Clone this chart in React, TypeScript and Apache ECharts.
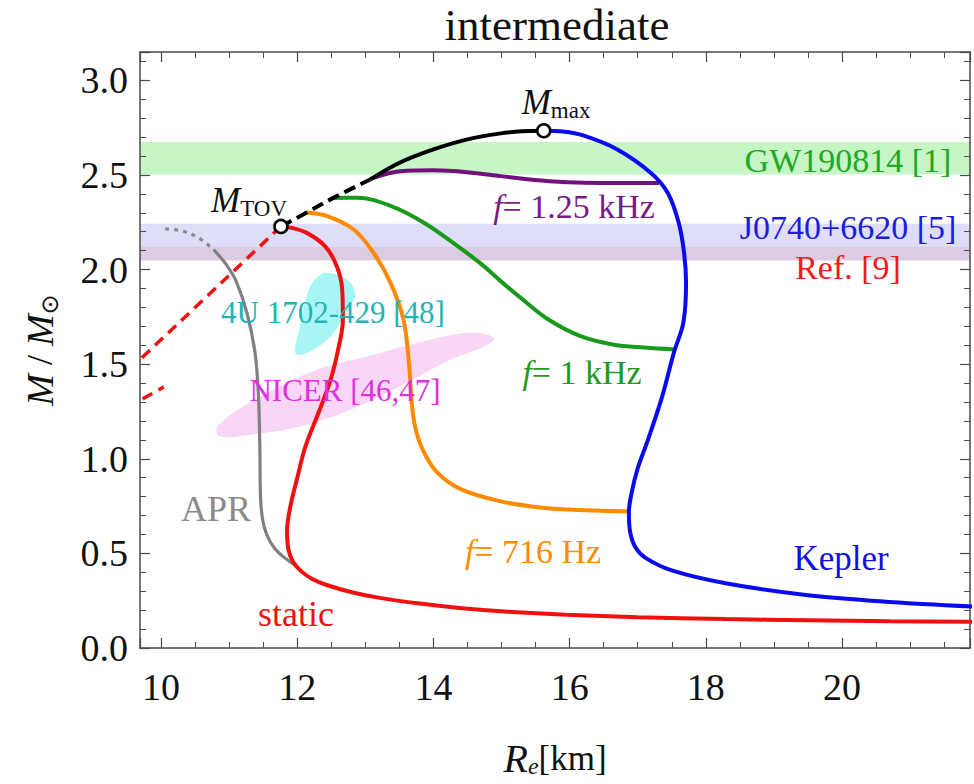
import { useEffect, useRef } from "react"
import * as echarts from "echarts"

const SERIF = "'Liberation Serif', 'Times New Roman', serif"

// axis ranges
const X_MIN = 9.69
const X_MAX = 21.88
const Y_MIN = 0
const Y_MAX = 3.15

// static sequence
const staticStable = [
  [11.76, 2.228], [11.9, 2.222], [12.14, 2.194], [12.41, 2.123], [12.58, 2.018], [12.66, 1.894],
  [12.67, 1.735], [12.61, 1.594], [12.49, 1.418], [12.31, 1.242], [12.12, 1.065], [12.0, 0.9],
  [11.9, 0.75], [11.85, 0.62], [11.87, 0.52], [11.94, 0.455], [12.06, 0.405], [12.22, 0.365],
  [12.43, 0.333], [12.8, 0.295], [13.21, 0.265], [13.8, 0.235], [14.38, 0.212], [15.1, 0.192],
  [15.95, 0.176], [17.0, 0.163], [18.29, 0.153], [19.5, 0.147], [20.7, 0.142], [21.95, 0.139],
]
const staticUnstable = [[11.76, 2.228], [9.4, 1.426]]
const staticReturn = [[9.5, 1.27], [10.04, 1.38]]

// APR
const aprDotted = [[10.06, 2.215], [10.3, 2.205], [10.55, 2.168], [10.77, 2.106]]
const aprSolid = [
  [10.77, 2.106], [10.95, 2.03], [11.1, 1.94], [11.26, 1.771], [11.38, 1.559], [11.43, 1.33],
  [11.45, 1.065], [11.46, 0.8], [11.49, 0.68], [11.55, 0.6], [11.66, 0.53], [11.82, 0.475], [12.0, 0.43],
]

// maximum-mass sequence
const maxDashed = [[11.76, 2.228], [12.14, 2.302], [12.53, 2.379], [13.07, 2.476]]
const maxSolid = [[13.07, 2.476], [13.51, 2.566], [14.0, 2.635], [14.5, 2.688], [14.99, 2.72], [15.3, 2.731], [15.62, 2.734]]

// Kepler limit
const kepler = [
  [15.62, 2.734], [15.9, 2.73], [16.21, 2.708], [16.7, 2.635], [17.19, 2.512], [17.44, 2.406],
  [17.6, 2.25], [17.68, 2.09], [17.71, 1.93], [17.67, 1.72], [17.53, 1.56], [17.36, 1.33],
  [17.15, 1.1], [17.0, 0.95], [16.91, 0.82], [16.87, 0.715], [16.89, 0.61], [16.97, 0.53],
  [17.12, 0.475], [17.5, 0.41], [18.29, 0.342], [19.47, 0.28], [20.64, 0.245], [21.95, 0.219],
]

// constant-frequency sequences
const f1250 = [
  [13.12, 2.485], [13.51, 2.52], [14.0, 2.525], [14.5, 2.515], [14.99, 2.494], [15.48, 2.473],
  [15.97, 2.462], [16.46, 2.458], [17.31, 2.458],
]
const f1000 = [
  [12.53, 2.379], [12.88, 2.38], [13.37, 2.337], [13.86, 2.248], [14.35, 2.125], [14.7, 2.03],
  [15.0, 1.935], [15.3, 1.845], [15.67, 1.74], [16.16, 1.648], [16.65, 1.603], [17.1, 1.588], [17.55, 1.578],
]
const f716 = [
  [12.14, 2.302], [12.44, 2.283], [12.83, 2.212], [13.12, 2.089], [13.37, 1.93], [13.56, 1.735],
  [13.64, 1.506], [13.68, 1.3], [13.73, 1.17], [13.84, 1.05], [14.05, 0.93], [14.4, 0.84],
  [14.99, 0.775], [15.5, 0.745], [15.95, 0.732], [16.87, 0.722],
]

const markers = [[11.76, 2.228], [15.62, 2.734]]

// observational constraints
const gwBand = [2.503, 2.674]
const j0740Band = [2.124, 2.242]
const ref9Band = [2.048, 2.124]
const blob4U = [
  [12.44, 1.983], [12.73, 1.947], [12.85, 1.877], [12.78, 1.806], [12.63, 1.718], [12.44, 1.63],
  [12.14, 1.559], [11.97, 1.559], [12.02, 1.665], [12.09, 1.788], [12.19, 1.912], [12.31, 1.963],
]
const blobNicer = [
  [14.89, 1.639], [14.5, 1.665], [13.76, 1.612], [13.03, 1.541], [12.29, 1.471], [11.55, 1.348],
  [11.06, 1.242], [10.82, 1.162], [10.87, 1.118], [11.31, 1.127], [12.04, 1.171], [12.78, 1.259],
  [13.51, 1.383], [14.25, 1.524], [14.74, 1.594],
]

const line = (data: number[][], color: string, width: number, type: any = "solid", z = 3) => ({
  type: "line",
  data,
  showSymbol: false,
  symbol: "none",
  smooth: 0.35,
  clip: true,
  silent: true,
  z,
  lineStyle: { color, width, type, cap: "butt" },
})

const band = (range: number[], fill: string) => ({
  type: "custom",
  data: [[X_MIN, range[0]]],
  silent: true,
  clip: true,
  z: 0,
  renderItem: (_p: any, api: any) => {
    const a = api.coord([X_MIN, range[0]])
    const b = api.coord([X_MAX, range[1]])
    return { type: "rect", shape: { x: a[0], y: b[1], width: b[0] - a[0], height: a[1] - b[1] }, style: { fill } }
  },
})

const blob = (points: number[][], fill: string) => ({
  type: "custom",
  data: [points[0]],
  silent: true,
  clip: true,
  z: 1,
  renderItem: (_p: any, api: any) => ({
    type: "polygon",
    shape: { points: points.map((p) => api.coord(p)), smooth: 0.4 },
    style: { fill },
  }),
})

const label = (x: number, y: number, text: string, color: string, size = 34, rich?: any) => ({
  type: "text",
  x,
  y,
  z: 100,
  silent: true,
  style: {
    text,
    fill: color,
    fontFamily: SERIF,
    fontSize: size,
    align: "center",
    verticalAlign: "middle",
    rich,
  },
})

const richF = (color: string) => ({
  i: { fontFamily: SERIF, fontSize: 34, fontStyle: "italic", fill: color },
  n: { fontFamily: SERIF, fontSize: 34, fill: color },
})
const richM = {
  i: { fontFamily: SERIF, fontSize: 35, fontStyle: "italic", lineHeight: 40, fill: "#111" },
  s: { fontFamily: SERIF, fontSize: 23, lineHeight: 22, verticalAlign: "bottom", fill: "#111" },
}

export default function App() {
  const chartRef = useRef<HTMLDivElement>(null)

  useEffect(() => {
    if (!chartRef.current) return
    const chart = echarts.init(chartRef.current, null, { renderer: "svg" })

    const axisColor = "#4a4a4a"
    const baseX = {
      type: "value",
      min: X_MIN,
      max: X_MAX,
      minInterval: 2,
      maxInterval: 2,
      splitLine: { show: false },
      axisLine: { show: true, onZero: false, lineStyle: { color: axisColor, width: 1.5 } },
      axisTick: { show: true, inside: true, length: 10, lineStyle: { color: axisColor, width: 1.2 } },
      minorTick: { show: true, splitNumber: 4, length: 6, lineStyle: { color: axisColor, width: 1 } },
    }
    const baseY = {
      type: "value",
      min: Y_MIN,
      max: Y_MAX,
      interval: 0.5,
      splitLine: { show: false },
      axisLine: { show: true, onZero: false, lineStyle: { color: axisColor, width: 1.5 } },
      axisTick: { show: true, inside: true, length: 10, lineStyle: { color: axisColor, width: 1.2 } },
      minorTick: { show: true, splitNumber: 5, length: 6, lineStyle: { color: axisColor, width: 1 } },
    }

    const option = {
      animation: false,
      grid: { left: 140, right: 4, top: 52, bottom: 136, containLabel: false, outerBoundsMode: "none" },
      xAxis: [
        {
          ...baseX,
          position: "bottom",
          axisLabel: {
            margin: 20,
            fontFamily: SERIF,
            fontSize: 38,
            color: "#111",
            formatter: (v: number) => (Math.abs(v - Math.round(v)) < 1e-6 && Math.round(v) % 2 === 0 ? String(Math.round(v)) : ""),
          },
          name: "{i|R}{s|e}{n|[km]}",
          nameLocation: "middle",
          nameGap: 90,
          nameTextStyle: {
            rich: {
              i: { fontFamily: SERIF, fontSize: 40, fontStyle: "italic", lineHeight: 40, color: "#111" },
              s: { fontFamily: SERIF, fontSize: 24, fontStyle: "italic", lineHeight: 22, verticalAlign: "bottom", color: "#111" },
              n: { fontFamily: SERIF, fontSize: 35, lineHeight: 40, color: "#111" },
            },
          },
        },
        { ...baseX, position: "top", axisLabel: { show: false } },
      ],
      yAxis: [
        {
          ...baseY,
          position: "left",
          axisLabel: {
            margin: 12,
            fontFamily: SERIF,
            fontSize: 38,
            color: "#111",
            formatter: (v: number) => (Math.abs(v * 2 - Math.round(v * 2)) < 1e-6 ? v.toFixed(1) : ""),
          },
          name: "{i|M}{n| / }{i|M}{s|⊙}",
          nameLocation: "middle",
          nameGap: 78,
          nameRotate: 90,
          nameTextStyle: {
            rich: {
              i: { fontFamily: SERIF, fontSize: 38, fontStyle: "italic", lineHeight: 44, color: "#111" },
              n: { fontFamily: SERIF, fontSize: 36, lineHeight: 44, color: "#111" },
              s: { fontFamily: "'DejaVu Sans', sans-serif", fontSize: 24, lineHeight: 24, verticalAlign: "bottom", color: "#111" },
            },
          },
        },
        { ...baseY, position: "right", axisLabel: { show: false } },
      ],
      series: [
        band(gwBand, "#c6f6c6"),
        band(j0740Band, "#dedef9"),
        band(ref9Band, "#dccce3"),
        blob(blobNicer, "#f9d6f6"),
        blob(blob4U, "#a8f5f6"),
        line(aprDotted, "#8c8c8c", 3.2, [4, 5]),
        line(aprSolid, "#808080", 3.2),
        line(staticUnstable, "#f01010", 3.5, [11, 7]),
        line(staticReturn, "#f01010", 3.5, [11, 7]),
        line(f716, "#ff8a00", 4),
        line(f1000, "#1a9a1a", 4),
        line(f1250, "#74107e", 4),
        line(staticStable, "#f01010", 4, "solid", 4),
        line(kepler, "#0a0af0", 4, "solid", 4),
        line(maxDashed, "#000", 4, [12, 6], 4),
        line(maxSolid, "#000", 4, "solid", 4),
        {
          type: "scatter",
          data: markers,
          symbol: "circle",
          symbolSize: 13,
          silent: true,
          z: 6,
          itemStyle: { color: "#fff", opacity: 1, borderColor: "#000", borderWidth: 2.5 },
        },
      ],
      graphic: [
        label(557, 25, "intermediate", "#111", 45),
        label(556, 102, "{i|M}{s|max}", "#111", 35, richM),
        label(249, 200, "{i|M}{s|TOV}", "#111", 35, richM),
        label(574, 206, "{i|f}{n|= 1.25 kHz}", "#7a1a86", 34, richF("#7a1a86")),
        label(848, 160, "GW190814 [1]", "#22a822", 34),
        label(848, 227, "J0740+6620 [5]", "#1c1ce0", 34),
        label(848, 267, "Ref. [9]", "#f01a1a", 34),
        label(333, 312, "4U 1702-429 [48]", "#22b4b4", 31),
        label(345, 390, "NICER [46,47]", "#e02ee0", 31),
        label(582, 372, "{i|f}{n|= 1 kHz}", "#1e9a1e", 34, richF("#1e9a1e")),
        label(216, 509, "APR", "#8a8a8a", 36),
        label(533, 551, "{i|f}{n|= 716 Hz}", "#ff8a00", 34, richF("#ff8a00")),
        label(841, 558, "Kepler", "#1010e0", 35),
        label(296, 614, "static", "#f01010", 36),
      ],
    }

    chart.setOption(option as any)

    return () => {
      chart.dispose()
    }
  }, [])

  return (
    <div
      ref={chartRef}
      style={{ position: "fixed", left: 0, top: 0, width: 974, height: 784, background: "#fff" }}
    />
  )
}
